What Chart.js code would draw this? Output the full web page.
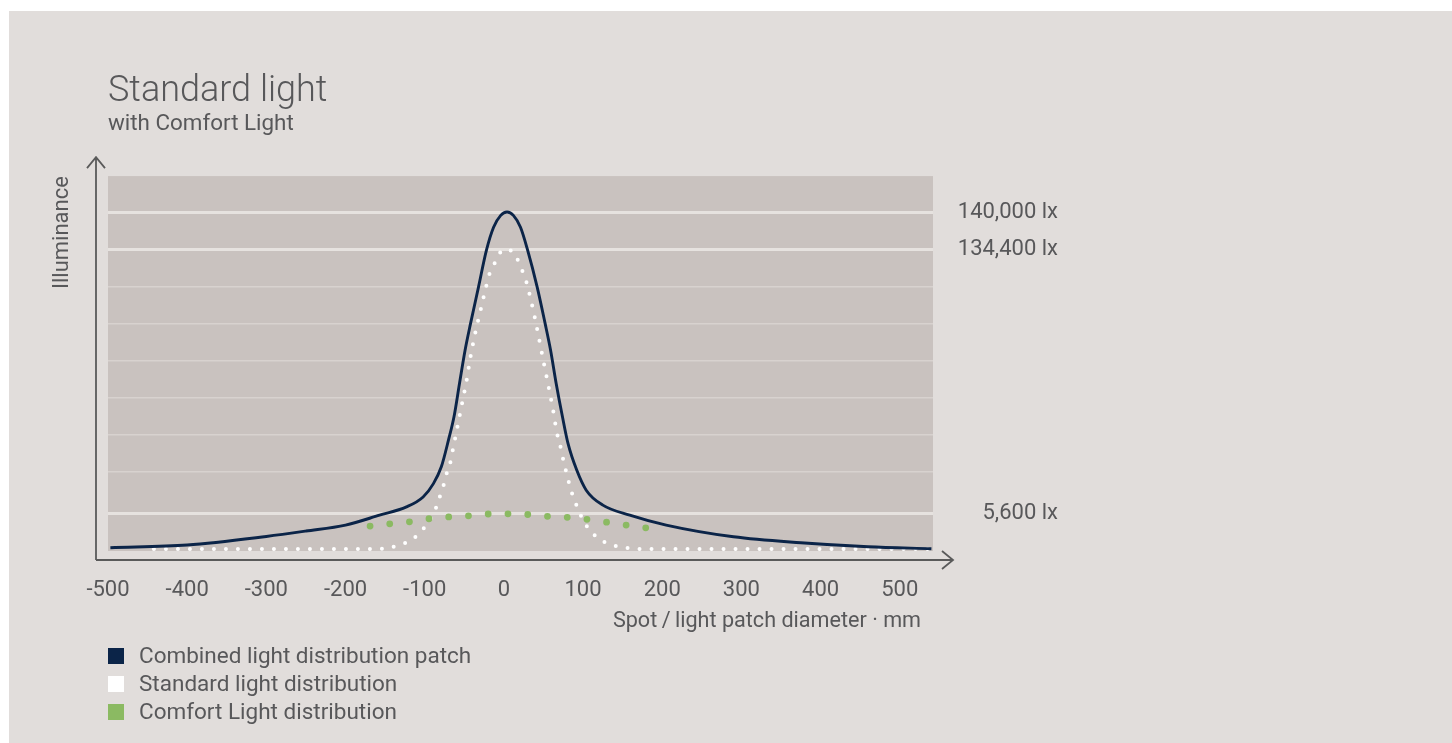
<!DOCTYPE html>
<html>
<head>
<meta charset="utf-8">
<title>Standard light with Comfort Light</title>
<script src="https://cdn.jsdelivr.net/npm/chart.js@4.4.1/dist/chart.umd.min.js"></script>
<style>
  html, body { margin: 0; background: #fff; }
  #panel { position: absolute; left: 9px; top: 11px; width: 1443px; height: 732px; background: #e1dddb; }
</style>
</head>
<body>
<div id="panel"><canvas id="lightChart"></canvas></div>
<script>
// spot diameter in mm, illuminance in lx
const combinedX = [-497, -400, -300, -250, -200, -157, -123, -102, -89, -79, -70, -63, -56, -49, -42, -32, -22, -13, -4, 4, 12, 21, 30, 42, 52, 59, 66, 74, 81, 92, 104, 125, 159, 205, 290, 375, 460, 540];
const combinedLux = [490, 880, 2150, 2950, 3830, 5300, 8650, 13500, 20000, 28200, 41200, 52600, 69000, 85100, 98300, 116000, 133900, 137700, 139500, 140000, 139500, 137700, 133900, 116000, 98300, 85100, 69000, 52600, 39600, 26600, 16800, 9500, 5300, 3830, 2100, 1220, 630, 340];

const standardX = [-442, -300, -200, -157, -143, -128, -114, -103, -93, -86, -81, -76, -72, -68, -65, -59, -53, -47, -42, -36, -29, -22, -18, -11, -4, 4, 15, 21, 27, 31, 38, 44, 50, 56, 62, 67, 71, 76, 80, 84, 89, 95, 102, 111, 123, 138, 154, 175, 300, 400, 538];
const standardLux = [300, 300, 300, 300, 545, 1030, 1870, 3100, 4670, 7900, 13550, 19400, 25300, 29650, 35500, 47000, 58800, 70500, 82200, 93800, 105300, 116800, 122500, 128000, 133100, 134400, 131100, 125800, 120300, 114600, 103000, 91500, 79800, 68200, 56300, 44800, 38900, 29900, 23800, 17900, 12100, 6400, 4170, 2760, 1580, 840, 490, 300, 300, 300, 300];

const comfortX = [-169, -148, -122, -98, -73, -49, -24, 1, 24, 50, 77, 103, 129, 155, 181];
const comfortLux = [3680, 3980, 4270, 4720, 5010, 5160, 5450, 5500, 5450, 5160, 5010, 4720, 4270, 3830, 3390];

const xTicks = [-500, -400, -300, -200, -100, 0, 100, 200, 300, 400, 500];
const yGridValues = [5600, 26000, 44000, 62000, 80000, 98000, 116000, 134400, 140000];
const yLabelValues = [5600, 134400, 140000];

const seriesLabels = ['Combined light distribution patch', 'Standard light distribution', 'Comfort Light distribution'];
const xAxisTitle = 'Spot\u2009/\u2009light patch diameter \u00b7 mm';

// the y axis of the drawing is not to scale: piecewise linear between these
const yBreakValues = [0, 5600, 134400, 140000, 145600];
const yBreakFractions = [0, 0.101, 0.805, 0.904, 1];

function interp(v, from, to) {
    for (let i = 1; i < from.length; i++) {
        if (v <= from[i] || i === from.length - 1) {
            const t = (v - from[i - 1]) / (from[i] - from[i - 1]);
            return to[i - 1] + t * (to[i] - to[i - 1]);
        }
    }
    return to[0];
}

class BrokenLinearScale extends Chart.LinearScale {
    getPixelForValue(value) {
        return this.getPixelForDecimal(interp(value, yBreakValues, yBreakFractions));
    }
    getValueForPixel(pixel) {
        return interp(this.getDecimalForPixel(pixel), yBreakFractions, yBreakValues);
    }
}
BrokenLinearScale.id = 'brokenLinear';
Chart.register(BrokenLinearScale);

const TEXT = '#58585a';
const FONT = 'Roboto';

const toPoints = (xs, ys) => xs.map((x, i) => ({x: x, y: ys[i]}));

const decor = {
    id: 'decor',
    beforeDraw(chart) {
        const {ctx, chartArea: a} = chart;
        ctx.save();
        ctx.fillStyle = '#c9c2bf';
        ctx.fillRect(a.left, a.top, a.right - a.left, a.bottom - a.top);
        ctx.restore();
    },
    afterDraw(chart) {
        const {ctx, chartArea: a} = chart;
        const ox = a.left - 12, oy = a.bottom + 9;
        const topY = a.top - 19, endX = a.right + 20;
        ctx.save();
        ctx.strokeStyle = '#5a5a5a';
        ctx.lineWidth = 1.8;
        ctx.beginPath();
        ctx.moveTo(ox, oy); ctx.lineTo(ox, topY);
        ctx.moveTo(ox, oy); ctx.lineTo(endX, oy);
        ctx.moveTo(ox - 9, topY + 11); ctx.lineTo(ox, topY); ctx.lineTo(ox + 9, topY + 11);
        ctx.moveTo(endX - 11, oy - 9); ctx.lineTo(endX, oy); ctx.lineTo(endX - 11, oy + 9);
        ctx.stroke();

        ctx.fillStyle = TEXT;
        ctx.font = '21.6px ' + FONT;
        ctx.textBaseline = 'middle';
        ctx.textAlign = 'right';
        ctx.fillText(xAxisTitle, a.right - 12, a.bottom + 71);

        // legend, one entry per row
        ctx.textAlign = 'left';
        ctx.font = '22.5px ' + FONT;
        chart.data.datasets.forEach((ds, i) => {
            const y = a.bottom + 105 + i * 28;
            ctx.fillStyle = ds.legendColor;
            ctx.fillRect(a.left, y - 8, 16, 16);
            ctx.fillStyle = TEXT;
            ctx.fillText(ds.label, a.left + 31, y + 1);
        });
        ctx.restore();
    }
};

const ctx = document.getElementById('lightChart').getContext('2d');
new Chart(ctx, {
    type: 'line',
    data: {
        datasets: [{
            label: seriesLabels[0],
            data: toPoints(combinedX, combinedLux),
            borderColor: '#0b2448',
            legendColor: '#0b2448',
            borderWidth: 2.9,
            order: 0
        }, {
            label: seriesLabels[1],
            data: toPoints(standardX, standardLux),
            borderColor: '#ffffff',
            legendColor: '#ffffff',
            borderWidth: 4,
            borderDash: [0, 12],
            borderCapStyle: 'round',
            order: 2
        }, {
            label: seriesLabels[2],
            data: toPoints(comfortX, comfortLux),
            borderColor: '#8bba62',
            legendColor: '#8bba62',
            borderWidth: 6.8,
            borderDash: [0, 19.8],
            borderCapStyle: 'round',
            order: 1
        }]
    },
    options: {
        responsive: true,
        maintainAspectRatio: false,
        animation: false,
        events: [],
        elements: {
            point: {radius: 0},
            line: {cubicInterpolationMode: 'monotone', fill: false}
        },
        layout: {padding: {left: 0, right: 394, top: 0, bottom: 107}},
        plugins: {
            legend: {display: false},
            tooltip: {enabled: false},
            title: {
                display: true,
                text: 'Standard light',
                align: 'start',
                fullSize: false,
                color: TEXT,
                font: {family: FONT, size: 36, weight: '300', lineHeight: 1},
                padding: {top: 63, bottom: 0}
            },
            subtitle: {
                display: true,
                text: 'with Comfort Light',
                align: 'start',
                fullSize: false,
                color: TEXT,
                font: {family: FONT, size: 22.4},
                padding: {top: 1, bottom: 38.2}
            }
        },
        scales: {
            x: {
                type: 'linear',
                min: -500,
                max: 542,
                afterBuildTicks: s => { s.ticks = xTicks.map(v => ({value: v})); },
                afterFit: s => { s.height = 85; },
                grid: {display: false, drawTicks: false},
                border: {display: false},
                ticks: {
                    color: TEXT,
                    font: {family: FONT, size: 22},
                    padding: 26,
                    maxRotation: 0,
                    callback: v => String(v)
                }
            },
            y: {
                type: 'brokenLinear',
                position: 'right',
                min: 0,
                max: 145600,
                afterBuildTicks: s => { s.ticks = yGridValues.map(v => ({value: v})); },
                afterFit: s => { s.width = 125; },
                grid: {
                    drawTicks: false,
                    color: c => yLabelValues.includes(c.tick.value) ? '#e6e2df' : '#d8d2cf',
                    lineWidth: c => yLabelValues.includes(c.tick.value) ? 3 : 1.5
                },
                border: {display: false},
                ticks: {
                    color: TEXT,
                    font: {family: FONT, size: 22},
                    padding: 26,
                    crossAlign: 'far',
                    callback: v => yLabelValues.includes(v) ? v.toLocaleString('en-US') + ' lx' : ''
                }
            },
            yTitle: {
                type: 'linear',
                position: 'left',
                afterFit: s => { s.width = 99; },
                grid: {display: false, drawTicks: false},
                border: {display: false},
                ticks: {display: false},
                title: {
                    display: true,
                    text: 'Illuminance',
                    align: 'end',
                    color: TEXT,
                    font: {family: FONT, size: 22},
                    padding: {top: 40, bottom: 0}
                }
            }
        }
    },
    plugins: [decor]
});
</script>
</body>
</html>
